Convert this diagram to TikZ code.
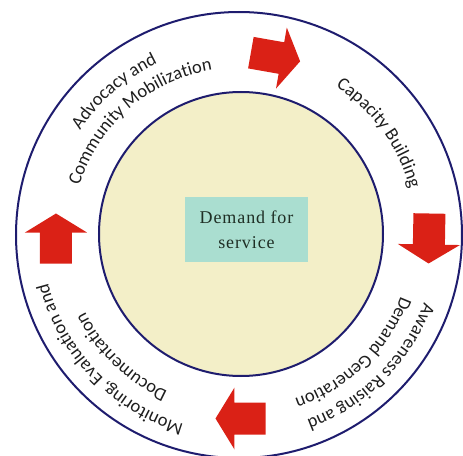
\documentclass[tikz,border=0pt]{standalone}
\usepackage{fontspec}
\setmainfont{Carlito}
\newfontfamily\boxserif{Liberation Serif}[LetterSpace=5]
\usetikzlibrary{decorations.text}
\definecolor{navy}{RGB}{30,28,110}
\definecolor{arrowred}{RGB}{218,33,22}
\definecolor{paleyellow}{RGB}{243,239,200}
\definecolor{paleteal}{RGB}{170,222,208}
\definecolor{ringgray}{RGB}{30,30,30}
\definecolor{boxtext}{RGB}{31,47,37}
\newcommand\ringfnt{\fontsize{18.5}{22}\selectfont}
\tikzset{
  ring/.style={circle, draw=navy, line width=2pt, inner sep=0pt},
  centerbox/.style={fill=paleteal, minimum width=123pt, minimum height=65pt, inner sep=0pt,
    align=center, text=boxtext, font=\boxserif\fontsize{18}{25}\selectfont},
  ringtext/.style={decorate, decoration={text along path, text align=center,
    text color=ringgray, text={|\ringfnt|#1}}},
  bigarrow/.pic={\fill[arrowred] (-25,-16) -- (6,-16) -- (6,-31) -- (25,0) -- (6,31) -- (6,16) -- (-25,16) -- cycle;}
}
\begin{document}
\begin{tikzpicture}[x=1pt,y=1pt]
\useasboundingbox (-239,-220) rectangle (224,235);
\node[ring, minimum size=446pt] (outer) at (0,0) {};
\node[ring, fill=paleyellow, minimum size=284pt] (inner) at (2,1) {};
\node[centerbox] (demand) at (7.5,5.5) {Demand for\\service};
% arrows
\pic[rotate=-10] at (36.5,178) {bigarrow};
\pic[rotate=-91] at (190,-3.5) {bigarrow};
\pic[rotate=180] at (1.5,-183.5) {bigarrow};
\pic[rotate=90] at (-183,-3.5) {bigarrow};
% ring texts (clockwise, tops outward)
\path[ringtext={Capacity Building}] (116:177) arc[start angle=116, end angle=-44, radius=177];
\path[ringtext={Advocacy and}] (211:190) arc[start angle=211, end angle=51, radius=190];
\path[ringtext={Community Mobilization}] (211:167) arc[start angle=211, end angle=51, radius=167];
\path[ringtext={Awareness Raising and}] (35:197) arc[start angle=35, end angle=-125, radius=197];
\path[ringtext={Demand Generation}] (34:173) arc[start angle=34, end angle=-126, radius=173];
\path[ringtext={Monitoring, Evaluation and}] (304:197) arc[start angle=304, end angle=144, radius=197];
\path[ringtext={Documentation}] (306:172) arc[start angle=306, end angle=146, radius=172];
\end{tikzpicture}
\end{document}
